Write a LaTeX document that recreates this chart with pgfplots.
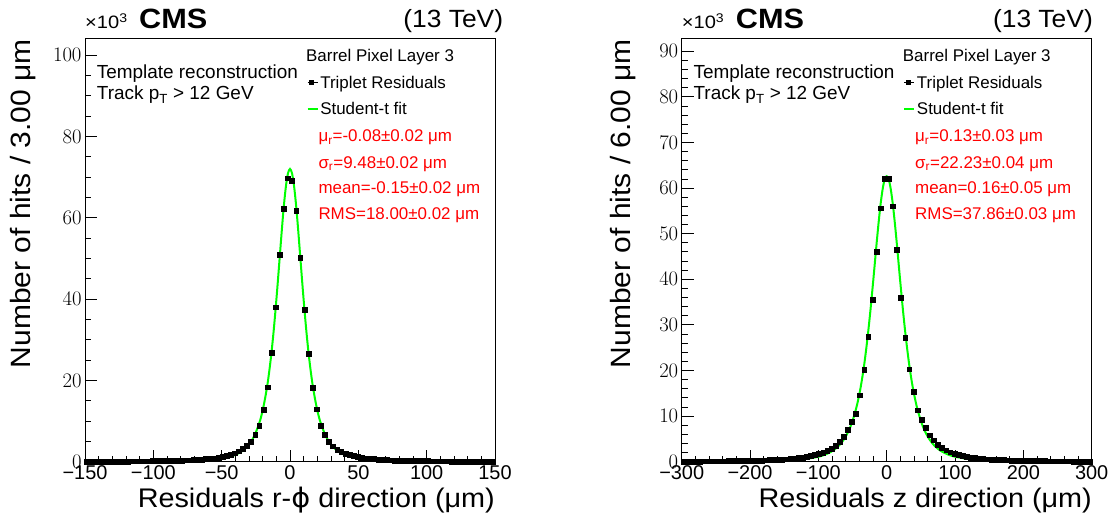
\documentclass[border=0pt]{standalone}
\usepackage{graphicx}
\usepackage{pgfplots}
\pgfplotsset{compat=1.18}
\usepackage{fontspec}
\setmainfont{Liberation Sans}
\newfontfamily\djv{DejaVu Sans}
\definecolor{rootgreen}{RGB}{0,255,0}
\definecolor{rootred}{RGB}{255,0,0}
\newcommand{\fs}[1]{\fontsize{#1}{#1}\selectfont}

\pgfplotstableread{
x y
-148.5 0.05
-145.5 0.05
-142.5 0.05
-139.5 0.06
-136.5 0.06
-133.5 0.07
-130.5 0.07
-127.5 0.08
-124.5 0.08
-121.5 0.09
-118.5 0.09
-115.5 0.10
-112.5 0.11
-109.5 0.12
-106.5 0.13
-103.5 0.14
-100.5 0.15
-97.5 0.17
-94.5 0.18
-91.5 0.20
-88.5 0.22
-85.5 0.25
-82.5 0.28
-79.5 0.31
-76.5 0.35
-73.5 0.39
-70.5 0.44
-67.5 0.50
-64.5 0.57
-61.5 0.66
-58.5 0.76
-55.5 0.88
-52.5 1.03
-49.5 1.22
-46.5 1.45
-43.5 1.75
-40.5 2.10
-37.5 2.60
-34.5 3.20
-31.5 3.90
-28.5 4.90
-25.5 6.70
-22.5 8.90
-19.5 12.7
-16.5 18.3
-13.5 26.9
-10.5 38.0
-7.5 51.0
-4.5 62.3
-1.5 69.7
1.5 69.1
4.5 61.7
7.5 50.2
10.5 37.3
13.5 26.5
16.5 18.2
19.5 12.9
22.5 8.9
25.5 6.6
28.5 5.0
31.5 3.8
34.5 3.0
37.5 2.4
40.5 2.0
43.5 1.7
46.5 1.42
49.5 1.2
52.5 1.0
55.5 0.86
58.5 0.74
61.5 0.64
64.5 0.56
67.5 0.49
70.5 0.43
73.5 0.38
76.5 0.34
79.5 0.30
82.5 0.27
85.5 0.24
88.5 0.22
91.5 0.20
94.5 0.18
97.5 0.16
100.5 0.15
103.5 0.14
106.5 0.13
109.5 0.12
112.5 0.11
115.5 0.10
118.5 0.09
121.5 0.09
124.5 0.08
127.5 0.07
130.5 0.07
133.5 0.06
136.5 0.06
139.5 0.06
142.5 0.05
145.5 0.05
148.5 0.05
}\dataRphi

\pgfplotstableread{
x y
-150 0.03
-125 0.04
-100 0.06
-85 0.11
-70 0.22
-60 0.40
-50 0.77
-45 1.12
-40.5 1.61
-37.5 2.08
-34.5 2.74
-31.5 3.64
-28.5 4.9
-25.5 6.8
-22.5 9.5
-21 11.2
-19.5 13.4
-18 16.0
-16.5 19.0
-15 22.7
-13.5 27.0
-12 32.0
-10.5 37.7
-9 43.9
-7.5 50.4
-6 56.9
-4.5 62.9
-3 67.7
-1.5 70.9
0 72.0
1.5 70.9
3 67.7
4.5 62.9
6 56.9
7.5 50.4
9 43.9
10.5 37.7
12 32.0
13.5 27.0
15 22.7
16.5 19.0
18 16.0
19.5 13.4
21 11.2
22.5 9.5
25.5 6.8
28.5 4.9
31.5 3.64
34.5 2.74
37.5 2.08
40.5 1.61
45 1.12
50 0.77
60 0.40
70 0.22
85 0.11
100 0.06
125 0.04
150 0.03
}\fitRphi

\pgfplotstableread{
x y
-297 0.06
-291 0.07
-285 0.07
-279 0.08
-273 0.08
-267 0.09
-261 0.10
-255 0.10
-249 0.11
-243 0.12
-237 0.13
-231 0.14
-225 0.15
-219 0.17
-213 0.18
-207 0.20
-201 0.22
-195 0.24
-189 0.26
-183 0.29
-177 0.32
-171 0.36
-165 0.40
-159 0.44
-153 0.50
-147 0.56
-141 0.63
-135 0.72
-129 0.82
-123 0.94
-117 1.08
-111 1.25
-105 1.45
-99 1.70
-93 2.0
-87 2.4
-81 2.9
-75 3.5
-69 4.4
-63 5.5
-57 7.0
-51 8.8
-45 10.6
-39 14.6
-33 20.1
-27 27.4
-21 35.5
-15 46.1
-9 55.6
-3 62.0
3 62.0
9 56.0
15 46.5
21 36.0
27 27.1
33 20.3
39 15.4
45 11.3
51 9.2
57 7.4
63 5.8
69 4.7
75 3.7
81 3.0
87 2.5
93 2.1
99 1.75
105 1.50
111 1.30
117 1.10
123 0.95
129 0.83
135 0.72
141 0.63
147 0.56
153 0.50
159 0.44
165 0.40
171 0.36
177 0.32
183 0.29
189 0.26
195 0.24
201 0.22
207 0.20
213 0.18
219 0.17
225 0.15
231 0.14
237 0.13
243 0.12
249 0.11
255 0.10
261 0.10
267 0.09
273 0.08
279 0.08
285 0.07
291 0.07
297 0.06
}\dataZ

\pgfplotstableread{
x y
-300 0.02
-250 0.04
-200 0.08
-170 0.16
-140 0.32
-120 0.57
-100 1.09
-90 1.56
-81 2.21
-75 2.83
-69 3.66
-63 4.8
-57 6.35
-51 8.5
-45 11.5
-42 13.4
-39 15.6
-36 18.2
-33 21.2
-30 24.7
-27 28.6
-24 32.9
-21 37.6
-18 42.5
-15 47.5
-12 52.2
-9 56.4
-6 59.7
-3 61.9
0 62.6
3 61.9
6 59.7
9 56.4
12 52.2
15 47.5
18 42.5
21 37.6
24 32.9
27 28.6
30 24.7
33 21.2
36 18.2
39 15.6
42 13.4
45 11.5
51 8.5
57 6.35
63 4.8
69 3.66
75 2.83
81 2.21
90 1.56
100 1.09
120 0.57
140 0.32
170 0.16
200 0.08
250 0.04
300 0.02
}\fitZ

\tikzset{txt/.style={inner sep=0pt, anchor=base west}}

\pgfplotsset{
  rootaxis/.style={
    scale only axis, width=410bp, height=423.7bp, anchor=south west,
    clip=false,
    axis line style={line width=0.8bp},
    tick align=inside, xtick pos=bottom, ytick pos=left,
    major tick length=12bp, minor tick length=6bp,
    every tick/.style={line width=0.8bp, black},
    ymin=0,
    scaled y ticks=false,
    ticklabel style={font=\fs{20}},
    yticklabel style={inner xsep=3.3bp},
    legend cell align=left,
    legend style={draw=none, fill=none, inner sep=0pt, outer sep=0pt,
      font=\fs{17}, row sep=0pt,
      nodes={text height=12bp, text depth=3.5bp, inner ysep=5.5bp, inner xsep=1.6bp}},
  },
  datastyle/.style={only marks, mark=square*, mark size=2.4bp, black,
    legend image code/.code={\path (0bp,1.75bp) -- (10bp,1.75bp);
      \draw[black, mark=square*, mark size=2bp] plot coordinates {(4bp,1.75bp)};}},
  fitstyle/.style={rootgreen, line width=2bp, smooth, no marks,
    legend image code/.code={\draw[rootgreen, line width=2bp] (0bp,1.75bp) -- (10bp,1.75bp);}},
}

\newcommand{\xten}{\fs{18}\scalebox{1.12}[1]{×10\textsuperscript{3}}}
\newcommand{\cms}{\bfseries\fs{28}\scalebox{1.1}[1]{CMS}}
\newcommand{\tev}{\fs{25}\scalebox{1.06}[1]{(13 TeV)}}

\begin{document}
\begin{tikzpicture}
\path[use as bounding box] (0bp,0bp) rectangle (1116bp,521bp);

% ---------- left panel ----------
\begin{axis}[rootaxis, at={(85bp,59.3bp)},
  xmin=-150, xmax=150, ymax=104.2,
  xtick={-150,-100,-50,0,50,100,150},
  xticklabels={−150,−100,−50,0,50,100,150},
  minor x tick num=4,
  ytick={0,20,40,60,80,100}, minor y tick num=3,
  legend style={at={(axis description cs:0.5407,0.9226)}, anchor=north west}]
\addplot[fitstyle, forget plot] table[x=x,y=y] {\fitRphi};
\addplot[datastyle] table[x=x,y=y] {\dataRphi};
\addlegendentry{Triplet Residuals}
\addlegendimage{fitstyle}
\addlegendentry{Student-t fit}
\end{axis}

\node[txt] at (85bp,492.7bp) {\xten};
\node[txt] at (139bp,492.7bp) {\cms};
\node[inner sep=0pt, anchor=base east] at (503.3bp,493.5bp) {\tev};
\node[txt, font=\fs{19}] at (96.7bp,442.7bp) {Template reconstruction};
\node[txt, font=\fs{19}] at (96.7bp,421bp) {Track p\textsubscript{T} > 12 GeV};
\node[txt, font=\fs{17}] at (306bp,459.3bp) {Barrel Pixel Layer 3};
\node[txt, font=\fs{17}, text=rootred] at (318.3bp,379.3bp) {μ\textsubscript{r}=-0.08±0.02 μm};
\node[txt, font=\fs{17}, text=rootred] at (318.3bp,352.7bp) {σ\textsubscript{r}=9.48±0.02 μm};
\node[txt, font=\fs{17}, text=rootred] at (318.3bp,327bp) {mean=-0.15±0.02 μm};
\node[txt, font=\fs{17}, text=rootred] at (318.3bp,301bp) {RMS=18.00±0.02 μm};
\node[inner sep=0pt, rotate=90, anchor=base east, font=\fs{28}] at (30bp,482bp) {\scalebox{1.075}[1]{Number of hits / 3.00 μm}};
\node[inner sep=0pt, anchor=base east, font=\fs{27}] at (495bp,13.7bp) {\scalebox{1.07}[1]{Residuals r-{\djv ϕ} direction (μm)}};

% ---------- right panel ----------
\begin{axis}[rootaxis, at={(681.7bp,59.3bp)},
  xmin=-300, xmax=300, ymax=92.9,
  xtick={-300,-200,-100,0,100,200,300},
  xticklabels={−300,−200,−100,0,100,200,300},
  minor x tick num=4,
  ytick={0,10,20,30,40,50,60,70,80,90}, minor y tick num=4,
  legend style={at={(axis description cs:0.5407,0.9226)}, anchor=north west}]
\addplot[fitstyle, forget plot] table[x=x,y=y] {\fitZ};
\addplot[datastyle] table[x=x,y=y] {\dataZ};
\addlegendentry{Triplet Residuals}
\addlegendimage{fitstyle}
\addlegendentry{Student-t fit}
\end{axis}

\node[txt] at (681.7bp,492.7bp) {\xten};
\node[txt] at (735.7bp,492.7bp) {\cms};
\node[inner sep=0pt, anchor=base east] at (1093bp,493.5bp) {\tev};
\node[txt, font=\fs{19}] at (693.4bp,442.7bp) {Template reconstruction};
\node[txt, font=\fs{19}] at (693.4bp,421bp) {Track p\textsubscript{T} > 12 GeV};
\node[txt, font=\fs{17}] at (902.7bp,459.3bp) {Barrel Pixel Layer 3};
\node[txt, font=\fs{17}, text=rootred] at (915bp,379.3bp) {μ\textsubscript{r}=0.13±0.03 μm};
\node[txt, font=\fs{17}, text=rootred] at (915bp,352.7bp) {σ\textsubscript{r}=22.23±0.04 μm};
\node[txt, font=\fs{17}, text=rootred] at (915bp,327bp) {mean=0.16±0.05 μm};
\node[txt, font=\fs{17}, text=rootred] at (915bp,301bp) {RMS=37.86±0.03 μm};
\node[inner sep=0pt, rotate=90, anchor=base east, font=\fs{28}] at (630bp,482bp) {\scalebox{1.075}[1]{Number of hits / 6.00 μm}};
\node[inner sep=0pt, anchor=base east, font=\fs{27}] at (1092bp,13.7bp) {\scalebox{1.07}[1]{Residuals z direction (μm)}};
\end{tikzpicture}
\end{document}
